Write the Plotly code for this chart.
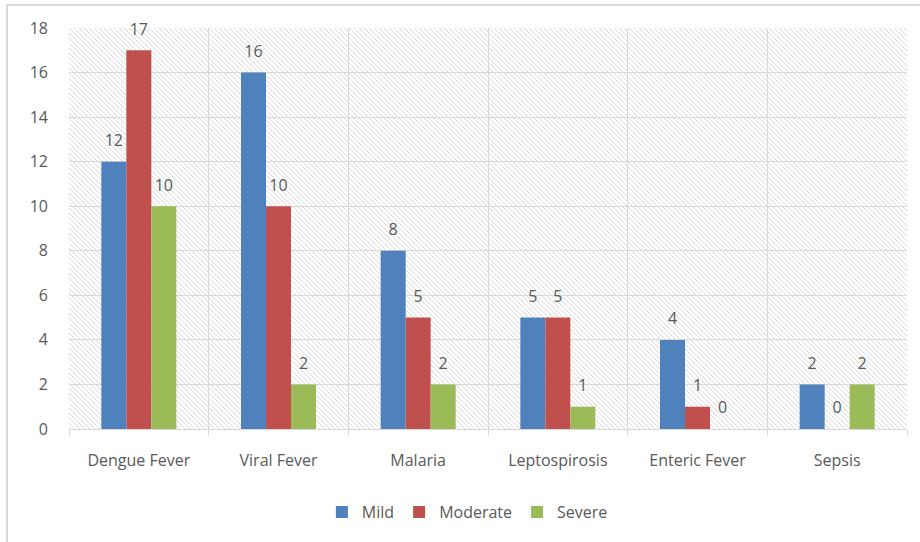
import plotly.graph_objects as go
import base64

categories = ["Dengue Fever", "Viral Fever", "Malaria", "Leptospirosis", "Enteric Fever", "Sepsis"]
mild = [12, 16, 8, 5, 4, 2]
moderate = [17, 10, 5, 5, 1, 0]
severe = [10, 2, 2, 1, 0, 2]
series_names = ["Mild", "Moderate", "Severe"]
series_values = [mild, moderate, severe]
series_colors = ["#4f81bd", "#c0504d", "#9bbb59"]

W, H = 920, 542
ML, MR, MT, MB = 69, 13, 28, 113
PW, PH = W - ML - MR, H - MT - MB
FONT = "Open Sans"
TXT = "#595959"
GRID = "#d9d9d9"
GAP = 0.463

fig = go.Figure()
for name, vals, col in zip(series_names, series_values, series_colors):
    fig.add_trace(go.Bar(
        x=categories, y=vals, name=name, marker=dict(color=col, line=dict(width=0)),
        offsetgroup=name, hoverinfo="x+y+name",
    ))
for name, vals, col in zip(series_names, series_values, series_colors):
    fig.add_trace(go.Scatter(
        x=categories, y=vals, mode="markers+text", text=[str(v) for v in vals],
        textposition="top center", textfont=dict(family=FONT, size=16, color=TXT),
        marker=dict(size=17, color="rgba(0,0,0,0)"), offsetgroup=name,
        showlegend=False, hoverinfo="skip", cliponaxis=False,
    ))

# diagonal hatch background for plot area
svg = (
    f'<svg xmlns="http://www.w3.org/2000/svg" width="{PW}" height="{PH}" '
    f'viewBox="0 0 {PW} {PH}" preserveAspectRatio="none">'
    '<defs><pattern id="h" patternUnits="userSpaceOnUse" width="5" height="5">'
    '<path d="M-1,-1 L6,6 M-1,4 L1,6 M4,-1 L6,1" stroke="#d9d9d9" stroke-width="1"/>'
    '</pattern></defs>'
    f'<rect width="{PW}" height="{PH}" fill="white"/>'
    f'<rect width="{PW}" height="{PH}" fill="url(#h)"/></svg>'
)
src = "data:image/svg+xml;base64," + base64.b64encode(svg.encode()).decode()
fig.add_layout_image(dict(source=src, xref="paper", yref="paper", x=0, y=1,
                          sizex=1, sizey=1, xanchor="left", yanchor="top",
                          sizing="stretch", layer="below"))

# outer chart border (top and left visible)
px = lambda v: (v - ML) / PW
py = lambda v: (H - MB - v) / PH
fig.add_shape(type="rect", xref="paper", yref="paper",
              x0=px(7), x1=px(960), y0=py(600), y1=py(5),
              line=dict(color="#d9d9d9", width=2), fillcolor="rgba(0,0,0,0)", layer="below")

fig.update_layout(
    width=W, height=H, margin=dict(l=ML, r=MR, t=MT, b=MB),
    paper_bgcolor="white", plot_bgcolor="white",
    barmode="group", bargap=GAP, bargroupgap=0,
    scattermode="group", scattergap=GAP,
    font=dict(family=FONT, size=16, color=TXT),
    showlegend=True,
    legend=dict(orientation="h", xref="container", yref="container",
                x=0.508, xanchor="center", y=1 - 512 / H, yanchor="middle",
                font=dict(family=FONT, size=16, color=TXT), itemwidth=30,
                bgcolor="rgba(0,0,0,0)"),
)
fig.update_xaxes(type="category", tickson="boundaries", showgrid=True, gridcolor=GRID, gridwidth=1,
                 showline=True, linecolor=GRID, linewidth=1, ticks="outside", ticklen=6,
                 tickcolor=GRID, ticklabelstandoff=17, tickfont=dict(family=FONT, size=16, color=TXT))
fig.update_yaxes(range=[0, 18], dtick=2, showgrid=True, gridcolor=GRID, gridwidth=1,
                 zeroline=False, showline=False, ticks="", ticklabelstandoff=20,
                 tickfont=dict(family=FONT, size=16, color=TXT))

fig.write_html("out.html")
